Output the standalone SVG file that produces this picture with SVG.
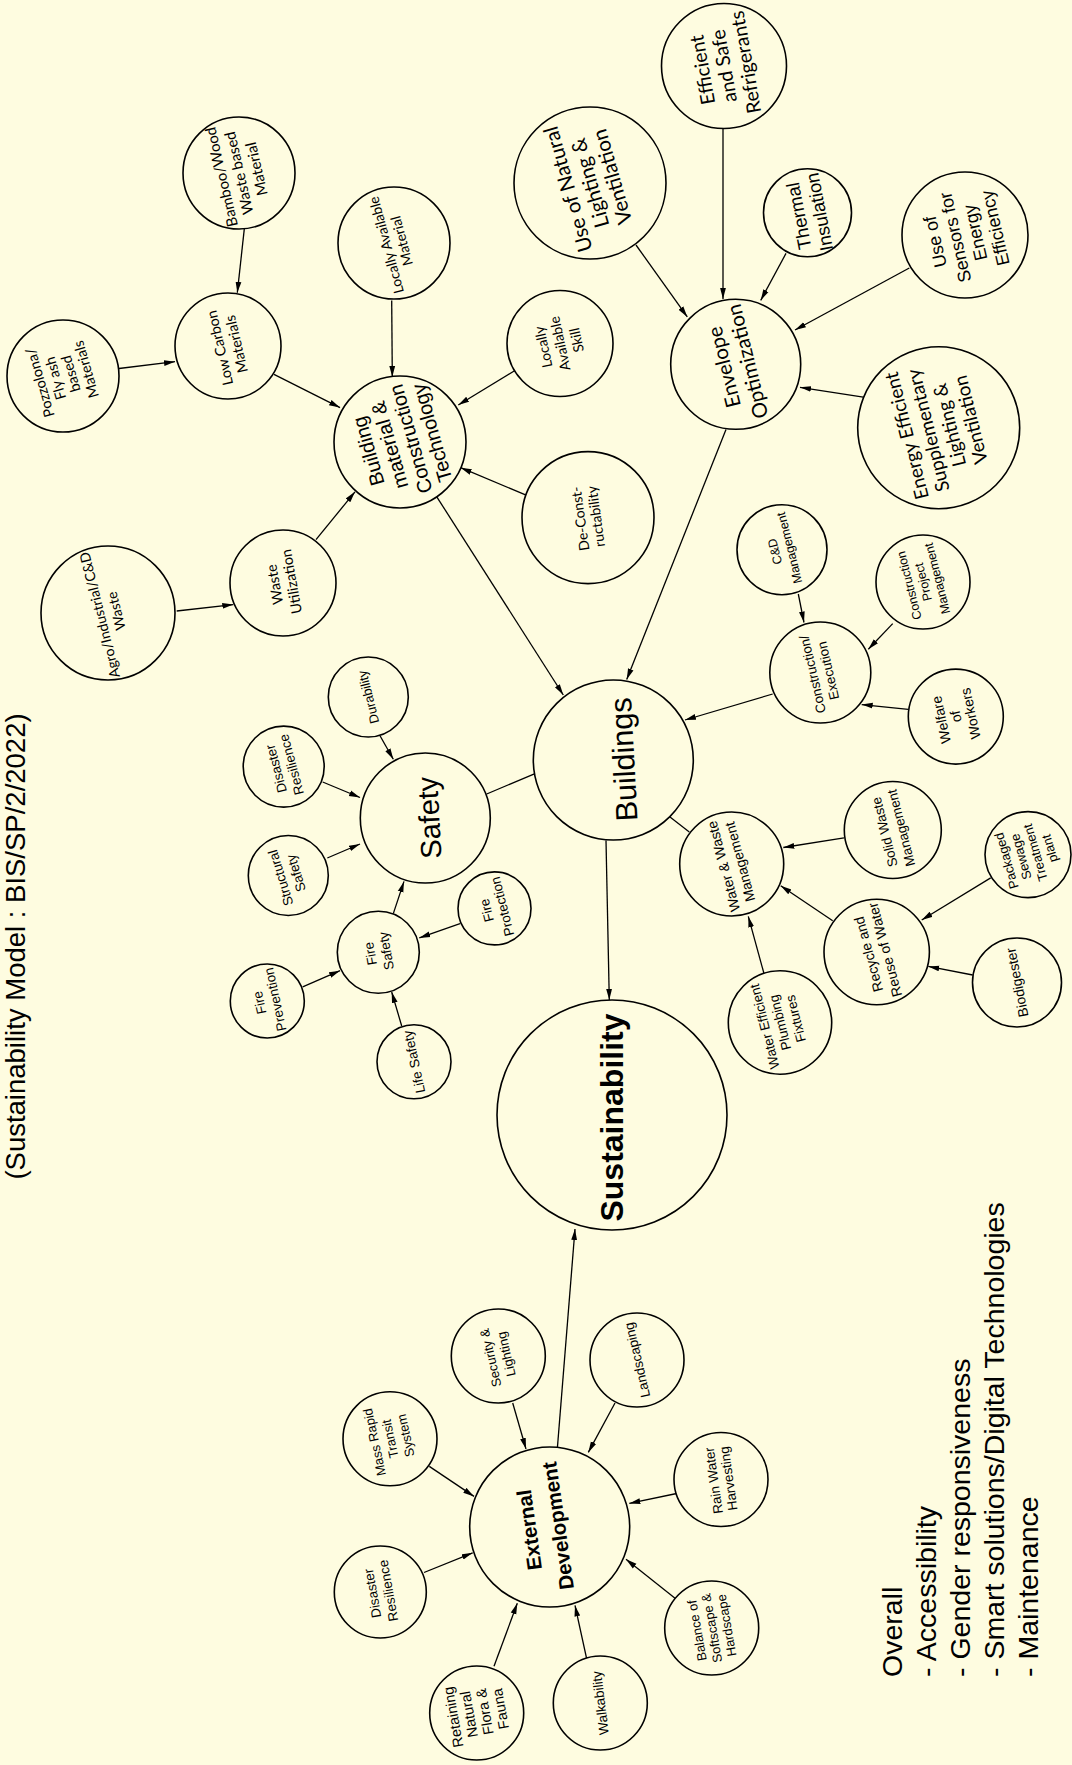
<svg xmlns="http://www.w3.org/2000/svg" width="1072" height="1765" viewBox="0 0 1072 1765">
  <defs>
    <marker id="ah" markerWidth="12" markerHeight="8" refX="11" refY="3.5" orient="auto" markerUnits="userSpaceOnUse">
      <path d="M0,0.6 L11,3.5 L0,6.4 z" fill="#000"/>
    </marker>
    <style>
      .bg { fill: #FEFCE0; }
      circle { fill: #FEFCE0; stroke: #000; stroke-width: 1.6; }
      text { fill: #000; text-anchor: middle; }
      .h { font-family: Lato, "Open Sans", sans-serif; }
      .a { font-family: "Liberation Sans", Arial, sans-serif; }
      .b { font-family: "Liberation Sans", Arial, sans-serif; font-weight: bold; }
      .e { stroke: #000; stroke-width: 1.3; fill: none; marker-end: url(#ah); }
      .p { stroke: #000; stroke-width: 1.3; fill: none; }
    </style>
  </defs>

  <rect class="bg" x="0" y="0" width="1072" height="1765"/>

  <!-- title along the left edge -->
  <text id="title" class="a" font-size="27.5" transform="translate(25 946.5) rotate(-90)">(Sustainability Model : BIS/SP/2/2022)</text>

  <!-- connectors -->
  <g id="connectors">
    <line class="e" x1="119" y1="368.5" x2="175" y2="361.7"/>
    <line class="e" x1="244.3" y1="228.9" x2="237.3" y2="292.8"/>
    <line class="e" x1="274" y1="374.3" x2="340" y2="407.6"/>
    <line class="e" x1="176.7" y1="611" x2="233.3" y2="604.6"/>
    <line class="e" x1="316" y1="539.6" x2="355" y2="491.8"/>
    <line class="e" x1="391.7" y1="300.4" x2="392.3" y2="377"/>
    <line class="e" x1="515" y1="370.5" x2="458.3" y2="405"/>
    <line class="e" x1="527.3" y1="495.6" x2="460.7" y2="467.7"/>
    <line class="e" x1="436" y1="495.6" x2="563.3" y2="695"/>
    <line class="e" x1="636" y1="245" x2="687.3" y2="316.9"/>
    <line class="e" x1="723" y1="128" x2="723" y2="299"/>
    <line class="e" x1="786" y1="253.4" x2="760.7" y2="300.4"/>
    <line class="e" x1="909.3" y1="268" x2="795" y2="330"/>
    <line class="e" x1="863.3" y1="397.2" x2="800" y2="387.3"/>
    <line class="e" x1="726" y1="429.4" x2="626.7" y2="679.6"/>
    <line class="e" x1="798.3" y1="594" x2="804" y2="622.5"/>
    <line class="e" x1="892.7" y1="623.6" x2="868.3" y2="649.3"/>
    <line class="e" x1="908.3" y1="709.3" x2="861.7" y2="704.6"/>
    <line class="e" x1="772.7" y1="694" x2="685" y2="720"/>
    <line class="p" x1="486.7" y1="794" x2="535" y2="773.6"/>
    <line class="e" x1="380" y1="735.7" x2="393.3" y2="759.3"/>
    <line class="e" x1="322.7" y1="782" x2="360" y2="797.5"/>
    <line class="e" x1="327.3" y1="858" x2="360" y2="844"/>
    <line class="e" x1="393.3" y1="913.6" x2="404" y2="881.4"/>
    <line class="e" x1="302.7" y1="986.8" x2="340" y2="970.7"/>
    <line class="e" x1="460" y1="923.6" x2="419.3" y2="937.9"/>
    <line class="e" x1="401.7" y1="1026" x2="391.7" y2="992"/>
    <line class="e" x1="606" y1="840.4" x2="609.3" y2="1000"/>
    <line class="p" x1="670" y1="817" x2="689.3" y2="832"/>
    <line class="e" x1="844" y1="837.9" x2="783.3" y2="847.5"/>
    <line class="e" x1="832.7" y1="920.7" x2="780.7" y2="885.7"/>
    <line class="e" x1="990.7" y1="877.9" x2="921.7" y2="920"/>
    <line class="e" x1="972.7" y1="975" x2="928.3" y2="966.4"/>
    <line class="e" x1="764" y1="973.6" x2="748.3" y2="916.4"/>
    <line class="e" x1="512.7" y1="1403" x2="526" y2="1449"/>
    <line class="e" x1="429.3" y1="1466.4" x2="474" y2="1496.4"/>
    <line class="e" x1="615" y1="1403" x2="588.3" y2="1452.4"/>
    <line class="e" x1="557.3" y1="1449" x2="575" y2="1229"/>
    <line class="e" x1="676.7" y1="1493.5" x2="629.3" y2="1503.4"/>
    <line class="e" x1="424" y1="1572.5" x2="472.7" y2="1552.8"/>
    <line class="e" x1="676" y1="1599" x2="626" y2="1559.3"/>
    <line class="e" x1="494" y1="1666.3" x2="517.3" y2="1603.3"/>
    <line class="e" x1="586.7" y1="1658.9" x2="575" y2="1605.4"/>
  </g>

  <!-- building material branch -->
  <g id="n-bamboo"><circle cx="239" cy="173" r="56"/>
    <text class="h" font-size="15" transform="translate(239 173) rotate(-103)"><tspan x="0" y="-12.8">Bamboo/Wood</tspan><tspan x="0" y="5.2">Waste based</tspan><tspan x="0" y="23.2">Material</tspan></text></g>
  <g id="n-lowcarbon"><circle cx="228" cy="346" r="53"/>
    <text class="h" font-size="14.5" transform="translate(228 346) rotate(-103)"><tspan x="0" y="-3.4">Low Carbon</tspan><tspan x="0" y="13.6">Materials</tspan></text></g>
  <g id="n-pozzolona"><circle cx="63" cy="376" r="56"/>
    <text class="h" font-size="14.5" transform="translate(63 376) rotate(-106)"><tspan x="0" y="-18.9">Pozzolona/</tspan><tspan x="0" y="-2.9">Fly ash</tspan><tspan x="0" y="13.1">based</tspan><tspan x="0" y="29.1">Materials</tspan></text></g>
  <g id="n-agro"><circle cx="108" cy="613" r="67"/>
    <text class="h" font-size="14" transform="translate(108 613) rotate(-104)"><tspan x="0" y="-3.6">Agro/Industrial/C&amp;D</tspan><tspan x="0" y="13.4">Waste</tspan></text></g>
  <g id="n-waste"><circle cx="283" cy="583" r="53"/>
    <text class="h" font-size="14.5" transform="translate(283 583) rotate(-100)"><tspan x="0" y="-3.4">Waste</tspan><tspan x="0" y="13.6">Utilization</tspan></text></g>
  <g id="n-locmat"><circle cx="394" cy="243" r="56"/>
    <text class="h" font-size="14" transform="translate(394 243) rotate(-105)"><tspan x="0" y="-3.1">Locally Available</tspan><tspan x="0" y="12.9">Material</tspan></text></g>
  <g id="n-skill"><circle cx="560" cy="343.5" r="53"/>
    <text class="h" font-size="14" transform="translate(560 343.5) rotate(-102)"><tspan x="0" y="-12.1">Locally</tspan><tspan x="0" y="4.9">Available</tspan><tspan x="0" y="21.9">Skill</tspan></text></g>
  <g id="n-decon"><circle cx="588" cy="517.6" r="66"/>
    <text class="h" font-size="14" transform="translate(588 517.6) rotate(-98)"><tspan x="0" y="-3.1">De-Const-</tspan><tspan x="0" y="12.9">ructability</tspan></text></g>
  <g id="n-bmct"><circle cx="400" cy="442" r="66"/>
    <text class="a" font-size="20" transform="translate(400 442) rotate(-106)"><tspan x="0" y="-26">Building</tspan><tspan x="0" y="-4">material &amp;</tspan><tspan x="0" y="18">Construction</tspan><tspan x="0" y="40">Technology</tspan></text></g>

  <!-- envelope branch -->
  <g id="n-natlight"><circle cx="590" cy="183" r="76"/>
    <text class="h" font-size="20.5" transform="translate(590 183) rotate(-106)"><tspan x="0" y="-15.8">Use of Natural</tspan><tspan x="0" y="7.2">Lighting &amp;</tspan><tspan x="0" y="30.2">Ventilation</tspan></text></g>
  <g id="n-refrig"><circle cx="724" cy="66" r="62.5"/>
    <text class="h" font-size="19.5" transform="translate(724 66) rotate(-100)"><tspan x="0" y="-15.2">Efficient</tspan><tspan x="0" y="6.8">and Safe</tspan><tspan x="0" y="28.8">Refrigerants</tspan></text></g>
  <g id="n-thermal"><circle cx="807.5" cy="212.8" r="44"/>
    <text class="a" font-size="18.5" transform="translate(809 214) rotate(-101)"><tspan x="0" y="-4">Thermal</tspan><tspan x="0" y="17">Insulation</tspan></text></g>
  <g id="n-sensors"><circle cx="965" cy="235" r="63"/>
    <text class="a" font-size="18" transform="translate(965 235) rotate(-103)"><tspan x="0" y="-24.45">Use of</tspan><tspan x="0" y="-3.95">Sensors for</tspan><tspan x="0" y="16.55">Energy</tspan><tspan x="0" y="37.05">Efficiency</tspan></text></g>
  <g id="n-envelope"><circle cx="735.7" cy="364.3" r="65"/>
    <text class="h" font-size="20.5" transform="translate(735.7 364.3) rotate(-104)"><tspan x="0" y="-4.8">Envelope</tspan><tspan x="0" y="19.2">Optimization</tspan></text></g>
  <g id="n-eesl"><circle cx="938.7" cy="427.7" r="81"/>
    <text class="h" font-size="19" transform="translate(938.7 427.7) rotate(-104)"><tspan x="0" y="-26.35">Energy Efficient</tspan><tspan x="0" y="-4.35">Supplementary</tspan><tspan x="0" y="17.65">Lighting &amp;</tspan><tspan x="0" y="39.65">Ventilation</tspan></text></g>

  <!-- construction branch -->
  <g id="n-cnd"><circle cx="782" cy="549.7" r="45"/>
    <text class="a" font-size="12.5" transform="translate(782 549.7) rotate(-104)"><tspan x="0" y="-3.1">C&amp;D</tspan><tspan x="0" y="11.9">Management</tspan></text></g>
  <g id="n-cpm"><circle cx="923" cy="582" r="47"/>
    <text class="a" font-size="12.5" transform="translate(923 582) rotate(-104)"><tspan x="0" y="-10.1">Construction</tspan><tspan x="0" y="4.4">Project</tspan><tspan x="0" y="18.9">Management</tspan></text></g>
  <g id="n-constr"><circle cx="820.3" cy="672.5" r="50.5"/>
    <text class="a" font-size="13.5" transform="translate(820.3 672.5) rotate(-103)"><tspan x="0" y="-3.3">Construction/</tspan><tspan x="0" y="12.7">Execution</tspan></text></g>
  <g id="n-welfare"><circle cx="955.8" cy="716.6" r="47.5"/>
    <text class="a" font-size="14" transform="translate(955.8 716.6) rotate(-102)"><tspan x="0" y="-10.1">Welfare</tspan><tspan x="0" y="4.9">of</tspan><tspan x="0" y="19.9">Workers</tspan></text></g>

  <!-- core -->
  <g id="n-buildings"><circle cx="613.3" cy="760" r="80"/>
    <text class="a" font-size="30.5" transform="translate(613.3 760) rotate(-93)"><tspan x="0" y="21">Buildings</tspan></text></g>
  <g id="n-sustainability"><circle cx="612" cy="1115" r="115"/>
    <text class="b" font-size="32" transform="translate(612 1117.5) rotate(-90)"><tspan x="0" y="11.2">Sustainability</tspan></text></g>

  <!-- safety branch -->
  <g id="n-safety"><circle cx="425.3" cy="818" r="65"/>
    <text class="a" font-size="29" transform="translate(425.3 818) rotate(-93)"><tspan x="0" y="14">Safety</tspan></text></g>
  <g id="n-durability"><circle cx="368.3" cy="697" r="40"/>
    <text class="a" font-size="13" transform="translate(368.3 697) rotate(-104)"><tspan x="0" y="4.6">Durability</tspan></text></g>
  <g id="n-sdisaster"><circle cx="283.7" cy="766.6" r="40.5"/>
    <text class="a" font-size="13.5" transform="translate(283.7 766.6) rotate(-105)"><tspan x="0" y="-3.3">Disaster</tspan><tspan x="0" y="12.7">Resilience</tspan></text></g>
  <g id="n-structural"><circle cx="288.3" cy="875.5" r="40"/>
    <text class="a" font-size="13.5" transform="translate(288.3 875.5) rotate(-107)"><tspan x="0" y="-3.3">Structural</tspan><tspan x="0" y="12.7">Safety</tspan></text></g>
  <g id="n-fireprev"><circle cx="267.3" cy="1001" r="37"/>
    <text class="a" font-size="13.5" transform="translate(267.3 1001) rotate(-102)"><tspan x="0" y="-3.3">Fire</tspan><tspan x="0" y="12.7">Prevention</tspan></text></g>
  <g id="n-firesafety"><circle cx="378.3" cy="952.3" r="41"/>
    <text class="a" font-size="13.5" transform="translate(378.3 952.3) rotate(-100)"><tspan x="0" y="-3.3">Fire</tspan><tspan x="0" y="12.7">Safety</tspan></text></g>
  <g id="n-fireprot"><circle cx="494.5" cy="908.4" r="36.5"/>
    <text class="a" font-size="13.5" transform="translate(494.5 908.4) rotate(-104)"><tspan x="0" y="-3.3">Fire</tspan><tspan x="0" y="12.7">Protection</tspan></text></g>
  <g id="n-lifesafety"><circle cx="414" cy="1061.8" r="37"/>
    <text class="a" font-size="13.5" transform="translate(414 1061.8) rotate(-102)"><tspan x="0" y="4.7">Life Safety</tspan></text></g>

  <!-- water branch -->
  <g id="n-water"><circle cx="731.7" cy="864" r="52"/>
    <text class="a" font-size="14" transform="translate(731.7 864) rotate(-105)"><tspan x="0" y="-3.6">Water &amp; Waste</tspan><tspan x="0" y="13.4">Management</tspan></text></g>
  <g id="n-solid"><circle cx="892.8" cy="830" r="48.5"/>
    <text class="a" font-size="13.5" transform="translate(892.8 830) rotate(-104)"><tspan x="0" y="-3.8">Solid Waste</tspan><tspan x="0" y="13.2">Management</tspan></text></g>
  <g id="n-sewage"><circle cx="1028" cy="854.6" r="43"/>
    <text class="a" font-size="13" transform="translate(1028 854.6) rotate(-106)"><tspan x="0" y="-17.95">Packaged</tspan><tspan x="0" y="-2.95">Sewage</tspan><tspan x="0" y="12.05">Treatment</tspan><tspan x="0" y="27.05">plant</tspan></text></g>
  <g id="n-recycle"><circle cx="876.7" cy="952" r="52.7"/>
    <text class="a" font-size="14" transform="translate(876.7 952) rotate(-105)"><tspan x="0" y="-3.6">Recycle and</tspan><tspan x="0" y="13.4">Reuse of Water</tspan></text></g>
  <g id="n-biodigester"><circle cx="1017" cy="982.5" r="44.5"/>
    <text class="a" font-size="14" transform="translate(1017 982.5) rotate(-101)"><tspan x="0" y="4.9">Biodigester</tspan></text></g>
  <g id="n-plumbing"><circle cx="780" cy="1022.5" r="51.7"/>
    <text class="a" font-size="13.5" transform="translate(780 1022.5) rotate(-104)"><tspan x="0" y="-11.3">Water Efficient</tspan><tspan x="0" y="4.7">Plumbing</tspan><tspan x="0" y="20.7">Fixtures</tspan></text></g>

  <!-- external development branch -->
  <g id="n-extdev"><circle cx="549.7" cy="1527" r="80"/>
    <text class="b" font-size="20.5" transform="translate(549.7 1527) rotate(-98)"><tspan x="0" y="-13.5">External</tspan><tspan x="0" y="15.5">Development</tspan></text></g>
  <g id="n-security"><circle cx="498.3" cy="1356" r="47"/>
    <text class="a" font-size="13" transform="translate(498.3 1356) rotate(-103)"><tspan x="0" y="-3.45">Security &amp;</tspan><tspan x="0" y="12.55">Lighting</tspan></text></g>
  <g id="n-mrt"><circle cx="390" cy="1438.8" r="47"/>
    <text class="a" font-size="13" transform="translate(390 1438.8) rotate(-102)"><tspan x="0" y="-11.45">Mass Rapid</tspan><tspan x="0" y="4.55">Transit</tspan><tspan x="0" y="20.55">System</tspan></text></g>
  <g id="n-landscaping"><circle cx="637" cy="1360" r="47"/>
    <text class="a" font-size="13.5" transform="translate(637 1360) rotate(-103)"><tspan x="0" y="4.7">Landscaping</tspan></text></g>
  <g id="n-rain"><circle cx="721" cy="1479.5" r="47"/>
    <text class="a" font-size="13.5" transform="translate(721 1479.5) rotate(-98)"><tspan x="0" y="-2.8">Rain Water</tspan><tspan x="0" y="12.2">Harvesting</tspan></text></g>
  <g id="n-edisaster"><circle cx="380.3" cy="1592" r="46"/>
    <text class="a" font-size="13.5" transform="translate(380.3 1592) rotate(-100)"><tspan x="0" y="-3.3">Disaster</tspan><tspan x="0" y="12.7">Resilience</tspan></text></g>
  <g id="n-balance"><circle cx="711.7" cy="1628" r="47"/>
    <text class="a" font-size="13" transform="translate(711.7 1628) rotate(-100)"><tspan x="0" y="-10.45">Balance of</tspan><tspan x="0" y="4.55">Softscape &amp;</tspan><tspan x="0" y="19.55">Hardscape</tspan></text></g>
  <g id="n-retaining"><circle cx="476.7" cy="1713" r="47"/>
    <text class="a" font-size="14.5" transform="translate(476.7 1713) rotate(-100)"><tspan x="0" y="-18.9">Retaining</tspan><tspan x="0" y="-2.9">Natural</tspan><tspan x="0" y="13.1">Flora &amp;</tspan><tspan x="0" y="29.1">Fauna</tspan></text></g>
  <g id="n-walkability"><circle cx="600.3" cy="1703" r="47"/>
    <text class="a" font-size="13.5" transform="translate(600.3 1703) rotate(-97)"><tspan x="0" y="4.7">Walkability</tspan></text></g>

  <!-- overall considerations list -->
  <text id="overall" class="a" font-size="28.5" style="text-anchor:start" transform="translate(902 1677) rotate(-90)"><tspan x="0" y="0">Overall</tspan><tspan x="0" y="34">- Accessibility</tspan><tspan x="0" y="68">- Gender responsiveness</tspan><tspan x="0" y="102">- Smart solutions/Digital Technologies</tspan><tspan x="0" y="136">- Maintenance</tspan></text>
</svg>
